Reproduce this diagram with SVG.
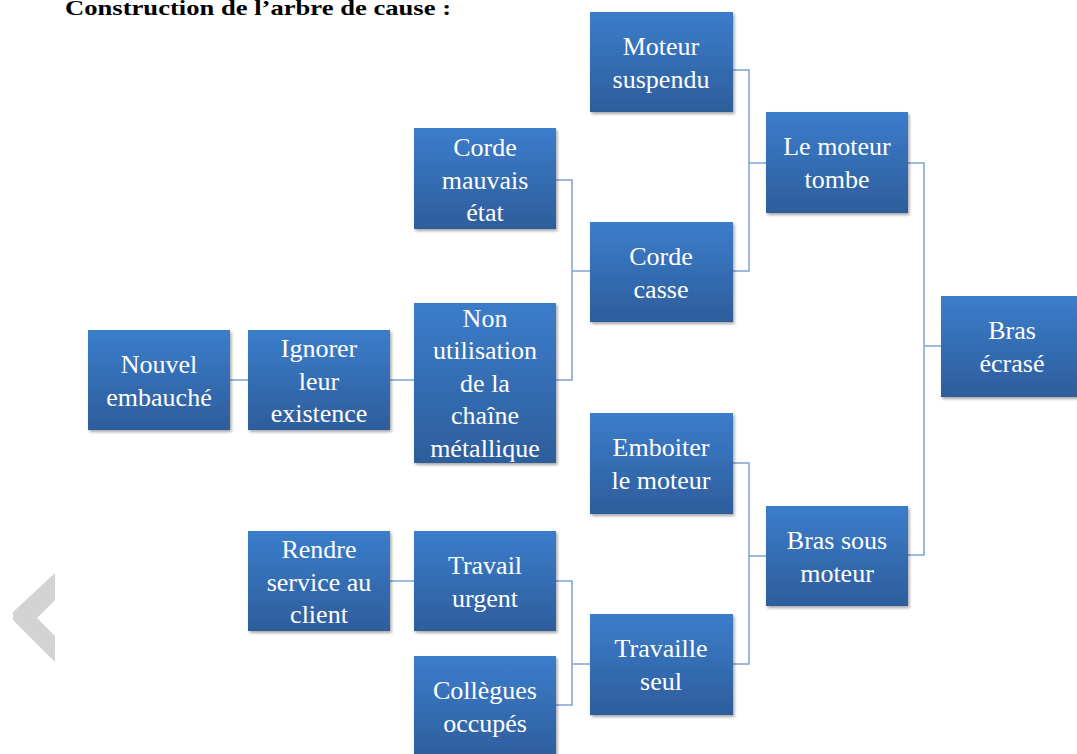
<svg xmlns="http://www.w3.org/2000/svg" width="1077" height="754" viewBox="0 0 1077 754">
<defs>
<linearGradient id="g" x1="0" y1="0" x2="0" y2="1">
<stop offset="0" stop-color="#3B7DCB"/>
<stop offset="1" stop-color="#2E5D9C"/>
</linearGradient>
<filter id="sh" x="-10%" y="-10%" width="125%" height="130%">
<feDropShadow dx="1.5" dy="2" stdDeviation="1.5" flood-color="#000" flood-opacity="0.35"/>
</filter>
<style>
.box{fill:url(#g);filter:url(#sh);}
.c{fill:none;stroke:#7FA3D4;stroke-width:1.5;}
</style>
</defs>
<rect width="1077" height="754" fill="#fff"/>
<text x="65" y="15" font-family="Liberation Serif, serif" font-size="21" font-weight="bold" fill="#000" textLength="386" lengthAdjust="spacingAndGlyphs">Construction de l’arbre de cause :</text>
<polygon points="55,573 13,612 13,620 55,662 55,636 37,618 55,600" fill="#D3D3D3"/>
<g id="connectors">
<path class="c" d="M733,70 H749 V271 H733 M749,163 H766"/>
<path class="c" d="M556,180 H572 V380 H556 M572,271 H590"/>
<path class="c" d="M230,380 H248"/>
<path class="c" d="M390,380 H414"/>
<path class="c" d="M908,163 H924 V555 H908 M924,346 H941"/>
<path class="c" d="M733,463 H749 V664 H733 M749,556 H766"/>
<path class="c" d="M556,581 H572 V705 H556 M572,664 H590"/>
<path class="c" d="M390,581 H414"/>
</g>
<g font-family="Liberation Serif, serif" font-size="26" fill="#fff" text-anchor="middle">
<g id="n-moteur-suspendu"><rect class="box" x="590" y="12" width="143" height="100"/><text x="661" y="55">Moteur</text><text x="661" y="88">suspendu</text></g>
<g id="n-moteur-tombe"><rect class="box" x="766" y="112" width="142" height="101"/><text x="837" y="155">Le moteur</text><text x="837" y="188">tombe</text></g>
<g id="n-corde-mauvais"><rect class="box" x="414" y="128" width="142" height="101"/><text x="485" y="156">Corde</text><text x="485" y="189">mauvais</text><text x="485" y="221">état</text></g>
<g id="n-corde-casse"><rect class="box" x="590" y="222" width="143" height="100"/><text x="661" y="265">Corde</text><text x="661" y="298">casse</text></g>
<g id="n-bras-ecrase"><rect class="box" x="941" y="296" width="143" height="101"/><text x="1012" y="339">Bras</text><text x="1012" y="372">écrasé</text></g>
<g id="n-nouvel"><rect class="box" x="88" y="330" width="142" height="100"/><text x="159" y="373">Nouvel</text><text x="159" y="406">embauché</text></g>
<g id="n-ignorer"><rect class="box" x="248" y="330" width="142" height="100"/><text x="319" y="357">Ignorer</text><text x="319" y="390">leur</text><text x="319" y="422">existence</text></g>
<g id="n-non-utilisation"><rect class="box" x="414" y="303" width="142" height="160"/><text x="485" y="327">Non</text><text x="485" y="359">utilisation</text><text x="485" y="392">de la</text><text x="485" y="424">chaîne</text><text x="485" y="457">métallique</text></g>
<g id="n-emboiter"><rect class="box" x="590" y="413" width="143" height="101"/><text x="661" y="456">Emboiter</text><text x="661" y="489">le moteur</text></g>
<g id="n-bras-sous"><rect class="box" x="766" y="506" width="142" height="100"/><text x="837" y="549">Bras sous</text><text x="837" y="582">moteur</text></g>
<g id="n-rendre"><rect class="box" x="248" y="531" width="142" height="100"/><text x="319" y="558">Rendre</text><text x="319" y="591">service au</text><text x="319" y="623">client</text></g>
<g id="n-travail-urgent"><rect class="box" x="414" y="531" width="142" height="100"/><text x="485" y="574">Travail</text><text x="485" y="607">urgent</text></g>
<g id="n-travaille-seul"><rect class="box" x="590" y="614" width="143" height="101"/><text x="661" y="657">Travaille</text><text x="661" y="690">seul</text></g>
<g id="n-collegues"><rect class="box" x="414" y="656" width="142" height="105"/><text x="485" y="699">Collègues</text><text x="485" y="732">occupés</text></g>
</g>
</svg>
